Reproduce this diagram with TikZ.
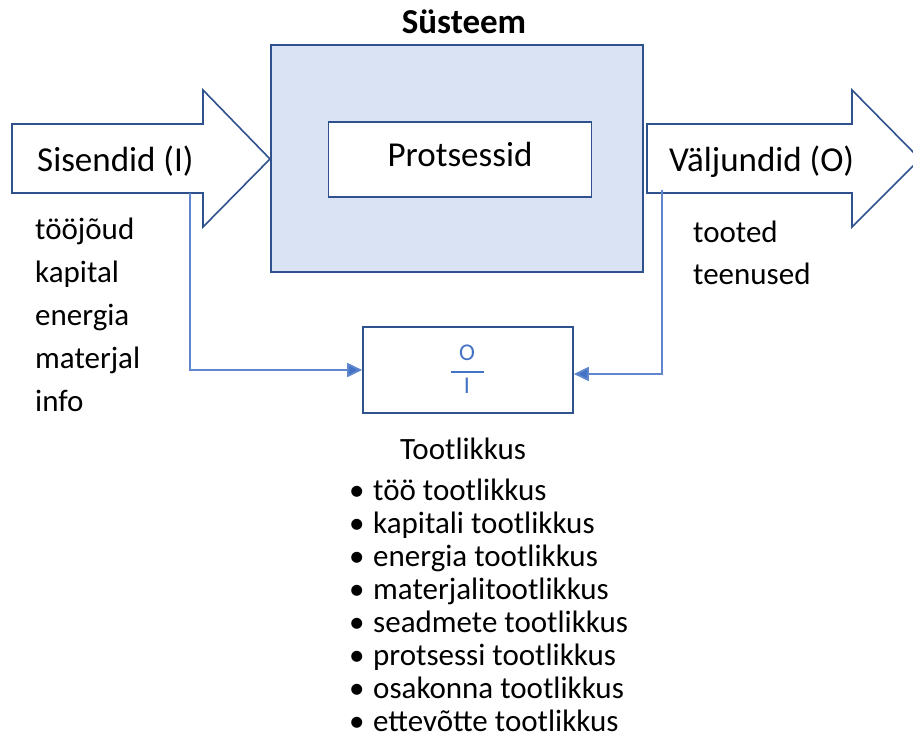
\documentclass[tikz,border=0pt]{standalone}
\usepackage{fontspec}
\setmainfont{Carlito}
\usetikzlibrary{arrows.meta}

\definecolor{frameblue}{HTML}{2F528F}
\definecolor{fillblue}{HTML}{DAE3F3}
\definecolor{linkblue}{HTML}{4472C4}

\begin{document}
\begin{tikzpicture}[x=1pt, y=-1pt,
    boxline/.style={draw=frameblue, line width=1.6pt},
    bigtext/.style={font=\fontsize{35}{42}\selectfont},
    listtext/.style={font=\fontsize{31}{43}\selectfont, align=left, inner sep=0pt, anchor=base west},
    fractext/.style={text=linkblue, font=\fontsize{24}{24}\selectfont, inner sep=0pt},
    link/.style={draw=linkblue!85, line width=1.8pt, -{Triangle[length=15pt, width=14pt, fill=linkblue]}}]
    \useasboundingbox (0,0) rectangle (913,736);

    % System box with the process inside
    \draw[boxline, fill=fillblue] (271,45) rectangle (643,272);
    \node[font=\bfseries\fontsize{35}{42}\selectfont, anchor=base] (title) at (464,33) {Süsteem};
    \node[boxline, fill=white, bigtext, minimum width=263pt, minimum height=75pt,
          text height=24pt, text depth=11pt] (proc) at (460,159.5) {Protsessid};

    % Input and output arrows
    \draw[boxline, fill=white] (12,124) -- (203,124) -- (203,90) -- (270,159) -- (203,227) -- (203,193) -- (12,193) -- cycle;
    \draw[boxline, fill=white] (647,124) -- (852,124) -- (852,90) -- (920,159) -- (852,227) -- (852,193) -- (647,193) -- cycle;
    \node[bigtext, anchor=base west, inner sep=0pt] (inlabel) at (37,171) {Sisendid (I)};
    \node[bigtext, anchor=base west, inner sep=0pt] (outlabel) at (669,171) {Väljundid (O)};

    % What goes in and what comes out (anchored at the last line)
    \node[listtext] (inputs) at (35,411) {tööjõud\\kapital\\energia\\materjal\\info};
    \node[listtext, font=\fontsize{31}{42}\selectfont] (outputs) at (693,284) {tooted\\teenused};

    % Productivity ratio
    \node[boxline, minimum width=210pt, minimum height=86pt] (ratio) at (468,370) {};
    \node[fractext] (num) at (467,353) {O};
    \node[fractext] (den) at (467,386) {I};
    \draw[draw=linkblue, line width=2pt] ([xshift=-17pt, yshift=-2pt]ratio.center) -- ([xshift=16pt, yshift=-2pt]ratio.center);

    \coordinate (infoot) at (190,193);
    \coordinate (outfoot) at (662,190);
    \draw[link] (infoot) |- (ratio.west);
    \draw[link] (outfoot) |- ([yshift=-4pt]ratio.east);

    % Kinds of productivity
    \node[font=\fontsize{31}{33}\selectfont, anchor=base] (prodtitle) at (463,459) {Tootlikkus};
    \node[listtext, font=\fontsize{31}{33}\selectfont] (prodlist) at (349,731) {%
        \makebox[24pt][l]{•}töö tootlikkus\\
        \makebox[24pt][l]{•}kapitali tootlikkus\\
        \makebox[24pt][l]{•}energia tootlikkus\\
        \makebox[24pt][l]{•}materjalitootlikkus\\
        \makebox[24pt][l]{•}seadmete tootlikkus\\
        \makebox[24pt][l]{•}protsessi tootlikkus\\
        \makebox[24pt][l]{•}osakonna tootlikkus\\
        \makebox[24pt][l]{•}ettevõtte tootlikkus};
\end{tikzpicture}
\end{document}
